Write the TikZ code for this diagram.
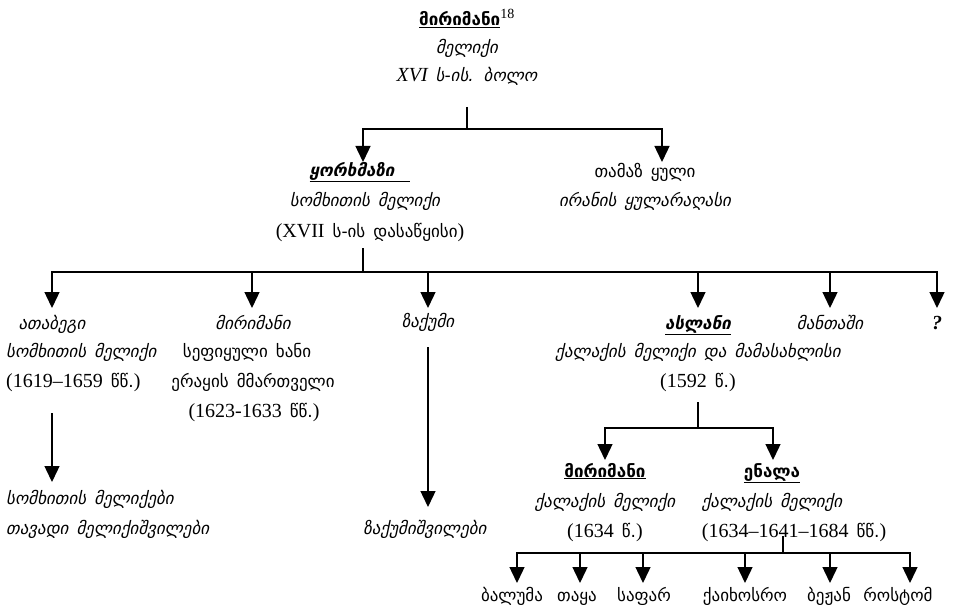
\documentclass[tikz,border=0pt]{standalone}
\usepackage{fontspec}
\setmainfont{Liberation Serif}[WordSpace=1.6]
\newfontfamily\geo{DejaVu Sans}[Scale=0.85, WordSpace=1.5]
\usetikzlibrary{arrows.meta}
\newcommand\ka[1]{{\geo #1}}
\begin{document}
\begin{tikzpicture}[x=1pt,y=-1pt,
  lbl/.style={inner sep=0pt, text height=12pt, text depth=4pt, font=\fontsize{20}{22}\selectfont},
  it/.style={lbl, font=\fontsize{20}{22}\selectfont\itshape},
  bd/.style={lbl, font=\fontsize{20}{22}\selectfont\bfseries},
  bi/.style={lbl, font=\fontsize{20}{22}\selectfont\bfseries\itshape},
  link/.style={line width=1.4pt},
  arr/.style={link, -{Triangle[width=15pt,length=16pt]}}]
\path[use as bounding box, fill=white] (0,0) rectangle (953,607);

% top
\node[bd] (r1) at (467,22) {\underline{\ka{მირიმანი}}\textsuperscript{\mdseries 18}};
\node[it] (r2) at (467,50) {\ka{მელიქი}};
\node[it] (r3) at (467,78) {XVI \ka{ს-ის. ბოლო}};
\coordinate (rs) at (467,107);
\coordinate (rj) at (467,129);
\coordinate (kin) at (363,162);
\coordinate (tin) at (662,162);
\draw[link] (rs) -- (rj);
\draw[arr] (rj) -| (kin);
\draw[arr] (rj) -| (tin);

% level 1
\node[bi] (k1) at (360,172) {\underline{\ka{ყორხმაზი}\ \ }};
\node[it] (k2) at (365,202) {\ka{სომხითის მელიქი}};
\node[lbl] (k3) at (370,233) {(XVII \ka{ს-ის დასაწყისი})};
\node[lbl] (t1) at (645,173) {\ka{თამაზ ყული}};
\node[it] (t2) at (645,202) {\ka{ირანის ყულარაღასი}};

\coordinate (ks) at (363,248);
\coordinate (kj) at (363,272);
\coordinate (ain) at (52,308);
\coordinate (min) at (252,308);
\coordinate (zin) at (428,308);
\coordinate (sin) at (698,308);
\coordinate (nin) at (830,308);
\coordinate (qin) at (937,308);
\draw[link] (ks) -- (kj);
\foreach \c in {ain,min,zin,sin,nin,qin} \draw[arr] (kj) -| (\c);

% level 2
\node[it] (a1) at (52,325) {\ka{ათაბეგი}};
\node[it, anchor=west] (a2) at (6,353) {\ka{სომხითის მელიქი}};
\node[lbl, anchor=west] (a3) at (6,383) {(1619--1659 \ka{წწ.})};
\coordinate (as) at (52,413);
\coordinate (ae) at (52,482);
\draw[arr] (as) -- (ae);
\node[it, anchor=west] (a4) at (6,500) {\ka{სომხითის მელიქები}};
\node[it, anchor=west] (a5) at (6,530) {\ka{თავადი მელიქიშვილები}};

\node[it] (m1) at (253,325) {\ka{მირიმანი}};
\node[lbl] (m2) at (247,353) {\ka{სეფიყული ხანი}};
\node[lbl] (m3) at (253,383) {\ka{ერაყის მმართველი}};
\node[lbl] (m4) at (254,413) {(1623-1633 \ka{წწ.})};

\node[it] (z1) at (428,323) {\ka{ზაქუმი}};
\coordinate (zs) at (428,347);
\coordinate (ze) at (428,507);
\draw[arr] (zs) -- (ze);
\node[it] (z2) at (425,530) {\ka{ზაქუმიშვილები}};

\node[bi] (s1) at (698,325) {\underline{\ka{ასლანი}}};
\node[it] (s2) at (698,353) {\ka{ქალაქის მელიქი და მამასახლისი}};
\node[lbl] (s3) at (698,383) {(1592 \ka{წ.})};
\node[it] (n1) at (830,325) {\ka{მანთაში}};
\node[bi] (q1) at (937,325) {?};

\coordinate (ss) at (698,402);
\coordinate (sj) at (698,428);
\coordinate (bin) at (605,460);
\coordinate (ein) at (773,460);
\draw[link] (ss) -- (sj);
\draw[arr] (sj) -| (bin);
\draw[arr] (sj) -| (ein);

% level 3
\node[bd] (b1) at (605,473) {\underline{\ka{მირიმანი}}};
\node[it] (b2) at (605,503) {\ka{ქალაქის მელიქი}};
\node[lbl] (b3) at (605,533) {(1634 \ka{წ.})};
\node[bd] (e1) at (772,473) {\underline{\ka{ენალა}}};
\node[it] (e2) at (772,503) {\ka{ქალაქის მელიქი}};
\node[lbl] (e3) at (794,533) {(1634--1641--1684 \ka{წწ.})};

\coordinate (es) at (783,536);
\coordinate (ej) at (783,553);
\draw[link] (es) -- (ej);
\coordinate (c1) at (517,583);
\coordinate (c2) at (580,583);
\coordinate (c3) at (643,583);
\coordinate (c4) at (745,583);
\coordinate (c5) at (830,583);
\coordinate (c6) at (910,583);
\foreach \c in {c1,c2,c3,c4,c5,c6} \draw[arr] (ej) -| (\c);

\node[lbl] (d1) at (512,597) {\ka{ბალუმა}};
\node[lbl] (d2) at (577,597) {\ka{თაყა}};
\node[lbl] (d3) at (644,597) {\ka{საფარ}};
\node[lbl] (d4) at (745,597) {\ka{ქაიხოსრო}};
\node[lbl] (d5) at (829,597) {\ka{ბეჟან}};
\node[lbl] (d6) at (898,597) {\ka{როსტომ}};
\end{tikzpicture}
\end{document}
